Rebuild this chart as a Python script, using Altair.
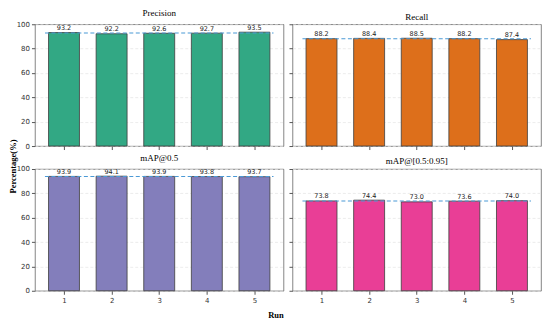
import altair as alt
import pandas as pd

runs = [1, 2, 3, 4, 5]
precision = [93.2, 92.2, 92.6, 92.7, 93.5]
recall = [88.2, 88.4, 88.5, 88.2, 87.4]
map50 = [93.9, 94.1, 93.9, 93.8, 93.7]
map5095 = [73.8, 74.4, 73.0, 73.6, 74.0]

metrics = ["Precision", "Recall", "mAP@0.5", "mAP@[0.5:0.95]"]
series = [precision, recall, map50, map5095]
colors = ["#32a884", "#dd6f1b", "#837ebb", "#e93e96"]
y_ticks = [0, 20, 40, 60, 80, 100]

rows = []
for m, vals in zip(metrics, series):
    for r, v in zip(runs, vals):
        rows.append({"metric": m, "run": r, "value": v})
df = pd.DataFrame(rows)

xs = alt.Scale(domain=[0.39, 5.61], nice=False, zero=False)
ys = alt.Scale(domain=[0, 100], nice=False)

W, H = 249, 122


def panel(idx):
    metric = metrics[idx]
    color = colors[idx]
    row, col = divmod(idx, 2)
    base = alt.Chart(df).transform_filter(alt.datum.metric == metric)

    xaxis_kw = dict(values=runs, tickCount=5, labels=(row == 1), grid=False, domain=False,
                    tickColor="#555", tickSize=3.5, labelFontSize=7,
                    labelFont="DejaVu Sans", labelColor="#333", labelPadding=2,
                    format="d", labelOverlap=False)
    if row == 1 and col == 0:
        xaxis = alt.Axis(title="Run", titleFont="Liberation Serif", titleFontSize=8.5,
                         titleFontWeight="bold", titleColor="#000", titleX=241, titleY=27,
                         titleBaseline="alphabetic", titleAlign="center", **xaxis_kw)
    else:
        xaxis = alt.Axis(title=None, **xaxis_kw)

    yaxis_kw = dict(values=y_ticks, tickCount=6, labels=(col == 0), grid=True,
                    gridColor="#e4e4e4", gridDash=[3, 2], gridWidth=0.7, domain=False,
                    tickColor="#555", tickSize=3.5, labelFontSize=7,
                    labelFont="DejaVu Sans", labelColor="#333", labelPadding=2,
                    labelOverlap=False, labelBound=False)
    if row == 0 and col == 0:
        yaxis = alt.Axis(title="Percentage(%)", titleFont="Liberation Serif", titleFontSize=8.5,
                         titleFontWeight="bold", titleColor="#000", titleX=-22, titleY=142,
                         titleAngle=-90, titleAlign="center", titleBaseline="middle", **yaxis_kw)
    else:
        yaxis = alt.Axis(title=None, **yaxis_kw)

    bars = base.transform_calculate(
        x0=alt.datum.run - 0.325, x1=alt.datum.run + 0.325
    ).mark_bar(color=color, stroke="#3d3d3d", strokeWidth=0.8).encode(
        x=alt.X("x0:Q", scale=xs, axis=xaxis),
        x2="x1:Q",
        y=alt.Y("value:Q", scale=ys, axis=yaxis),
        y2=alt.datum(0),
    )
    mean_line = base.transform_aggregate(
        m="mean(value)", lo="min(run)", hi="max(run)"
    ).transform_calculate(
        a=alt.datum.lo - 0.4, b=alt.datum.hi + 0.4
    ).mark_rule(color="#4b9ad6", strokeDash=[4, 2.5], strokeWidth=1.1).encode(
        x=alt.X("a:Q", scale=xs),
        x2="b:Q",
        y=alt.Y("m:Q", scale=ys),
    )
    labels = base.mark_text(dy=-1.5, baseline="bottom", fontSize=6.5,
                            font="DejaVu Sans", color="#222").encode(
        x=alt.X("run:Q", scale=xs),
        y=alt.Y("value:Q", scale=ys),
        text=alt.Text("value:Q", format=".1f"),
    )
    return alt.layer(bars, mean_line, labels).properties(
        width=W, height=H,
        title=alt.Title(metric, font="Liberation Serif", fontSize=9,
                        fontWeight="normal", color="#000", offset=2),
    )


chart = alt.concat(
    *[panel(i) for i in range(4)],
    columns=2,
    spacing={"row": 23, "column": 9},
    bounds="flush",
).properties(padding=0).configure_view(
    stroke="#666", strokeWidth=0.8
)

chart.save("out.html", embed_options={"renderer": "svg", "actions": False})
